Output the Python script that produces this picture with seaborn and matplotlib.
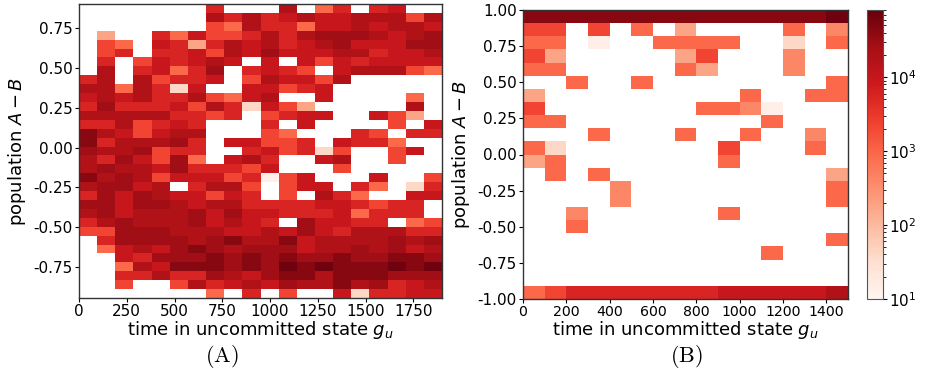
import numpy as np
import pandas as pd
import matplotlib
matplotlib.use("Agg")
import matplotlib.pyplot as plt
from matplotlib.colors import LogNorm
import seaborn as sns

# colour codes -> approximate counts per cell
LEVELS = {'z': 14, 'a': 40, 'b': 180, 'x': 400, 'c': 900, 'd': 2200, 'e': 5600,
          'f': 9500, 'g': 19000, 'h': 28000, 'i': 44000, 'j': 68000}

# panel A: 20 time bins x 33 population bins, rows listed top -> bottom
a_time_edges = np.linspace(0, 1900, 21)
a_pop_edges = np.linspace(-0.946, 0.902, 34)
a_rows = [
    ".......e...g.ce.ef..",
    ".......gegefgffgggdg",
    ".......dcgeecffgfggf",
    ".b..ecfddegeghhhgfgh",
    ".dc.febegfgefghfffhh",
    ".de.eefdgfhfffggeffg",
    ".e.dfefgf.f.fdfeffff",
    ".g.efceh.efed.fgggdc",
    "eg.gdeef.dgffdg.....",
    "ggcgeaf..ffdef......",
    "fgfgeegdcfg..f....c.",
    "eheeefdgeafdb.....g.",
    "gggggeede.deff..fdb.",
    "eegdefe...e.f....d.f",
    "igfdfgg...dc...ed.ee",
    "ieggghe.ffdde.feec..",
    "hgghdee..efdead..df.",
    "gehfdhc.fge..fg..d..",
    "ghggfheeedf...d.....",
    "ighgdfffdezdf...f..d",
    "ghhfg.eggd.dff.ec.ae",
    "ehfhgffdfe.d.gec..ff",
    "hhfhhgfggeeeeffedee.",
    "ghfggghfhffeeefceee.",
    "eghggghfgfe.hffee.cd",
    "ddhhhgggffgfhfegggee",
    ".ehhhhghiggifgggghgh",
    ".cfgfhihghhhfgghghfg",
    "..fehhhihihihhihhiih",
    "..cgfiiihihjijiiijij",
    "..eegeehgfhiigiiihhh",
    "..d..dgefgfhggighefg",
    ".......c.e.d..faeeff",
]

# panel B: 15 time bins x 22 population bins, rows listed top -> bottom
b_time_edges = np.linspace(0, 1500, 16)
b_pop_edges = np.linspace(-1, 1, 23)
b_rows = [
    "iiiiiiiiiiiiiij",
    "dd.d.c.b....c.x",
    "cc.z..cccc..a.c",
    "db.....bd...x..",
    "cc.....cb...x..",
    "..c..c........c",
    "b.........c..cc",
    "d.......ccxz...",
    "cc.........c...",
    "...c...c..c..x.",
    "ca.......d...c.",
    "bc.......c.....",
    ".c.c..........b",
    "....x.........c",
    "....x.........c",
    "..x......c.....",
    "..c............",
    "..............c",
    "...........c...",
    "...............",
    "...............",
    "cdeeeeeeefffffg",
]


def to_frame(rows, x_edges, y_edges):
    xc = (x_edges[:-1] + x_edges[1:]) / 2
    yc = (y_edges[:-1] + y_edges[1:]) / 2
    recs = []
    for i, row in enumerate(rows[::-1]):
        for j, ch in enumerate(row):
            if ch != '.':
                recs.append((xc[j], yc[i], LEVELS[ch]))
    return pd.DataFrame(recs, columns=['time', 'pop', 'count'])


df_a = to_frame(a_rows, a_time_edges, a_pop_edges)
df_b = to_frame(b_rows, b_time_edges, b_pop_edges)

norm = LogNorm(vmin=10, vmax=8.1e4)

W, H = 926, 377
fig = plt.figure(figsize=(W / 100, H / 100), dpi=100)
ax_a = fig.add_axes([79 / W, 1 - 298 / H, 363 / W, 294 / H])
ax_b = fig.add_axes([523 / W, 1 - 299 / H, 325 / W, 289 / H])
cax = fig.add_axes([867 / W, 1 - 299 / H, 16 / W, 289 / H])

tick_fs = 11
label_fs = 13

# Panel A
sns.histplot(data=df_a, x='time', y='pop', weights='count',
             bins=(a_time_edges, a_pop_edges), cmap='Reds', ax=ax_a)
mesh_a = ax_a.collections[0]
mesh_a.set_norm(norm)
ax_a.set_xlim(a_time_edges[0], a_time_edges[-1])
ax_a.set_ylim(a_pop_edges[0], a_pop_edges[-1])
ax_a.set_xticks([0, 250, 500, 750, 1000, 1250, 1500, 1750])
ax_a.set_yticks([-0.75, -0.5, -0.25, 0, 0.25, 0.5, 0.75])
ax_a.yaxis.set_major_formatter(plt.FormatStrFormatter('%.2f'))

# Panel B
sns.histplot(data=df_b, x='time', y='pop', weights='count',
             bins=(b_time_edges, b_pop_edges), cmap='Reds', ax=ax_b)
mesh_b = ax_b.collections[0]
mesh_b.set_norm(norm)
ax_b.set_xlim(b_time_edges[0], b_time_edges[-1])
ax_b.set_ylim(b_pop_edges[0], b_pop_edges[-1])
ax_b.set_xticks(np.arange(0, 1401, 200))
ax_b.set_yticks([-1, -0.75, -0.5, -0.25, 0, 0.25, 0.5, 0.75, 1])
ax_b.yaxis.set_major_formatter(plt.FormatStrFormatter('%.2f'))

for ax in (ax_a, ax_b):
    ax.set_xlabel(r'time in uncommitted state $g_u$', fontsize=label_fs, labelpad=0)
    ax.set_ylabel(r'population $A-B$', fontsize=label_fs)
    ax.tick_params(labelsize=tick_fs, length=3, pad=1.5)
    for s in ax.spines.values():
        s.set_linewidth(1.0)
        s.set_color('#333333')
# crowded tick row in panel B
ax_b.tick_params(axis='x', labelsize=10.2)

cb = fig.colorbar(mesh_b, cax=cax)
cb.ax.tick_params(labelsize=tick_fs, length=3, pad=1.5)
cb.outline.set_edgecolor('#555555')

fig.text(222 / W, 1 - 357 / H, r'$\mathrm{(A)}$', fontsize=16, math_fontfamily='cm',
         ha='center', va='center')
fig.text(686 / W, 1 - 357 / H, r'$\mathrm{(B)}$', fontsize=16, math_fontfamily='cm',
         ha='center', va='center')

fig.savefig('out.png', dpi=100)
